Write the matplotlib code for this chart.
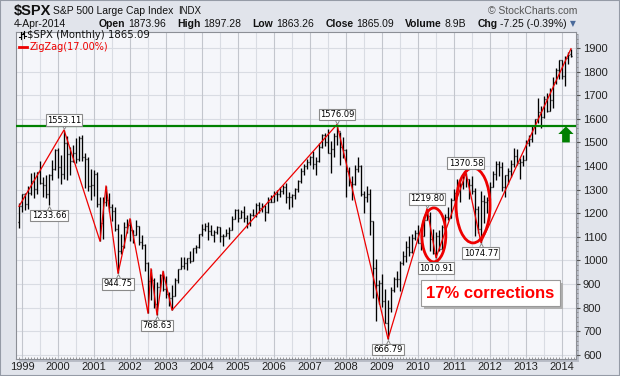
import matplotlib.pyplot as plt
import matplotlib.transforms as mtransforms
from matplotlib.patches import Ellipse, Rectangle
from matplotlib.lines import Line2D
from matplotlib.ticker import MultipleLocator
import pandas as pd

# monthly bars, Dec 1998 .. Apr 2014
months = pd.date_range("1998-12-01", "2014-04-01", freq="MS")

opens = [
    1163.6,
    1229.2, 1279.6, 1238.3, 1286.4, 1335.2, 1301.8, 1372.7, 1328.7, 1320.4, 1282.7, 1362.9, 1388.9,
    1469.3, 1394.5, 1366.4, 1498.6, 1452.4, 1420.6, 1454.6, 1430.8, 1517.7, 1436.5, 1429.4, 1315.0,
    1320.3, 1366.0, 1239.9, 1160.3, 1249.5, 1255.8, 1224.4, 1211.2, 1133.6, 1040.9, 1059.8, 1139.5,
    1148.1, 1130.2, 1106.7, 1147.4, 1076.9, 1067.1, 989.8, 911.6, 916.1, 815.3, 885.8, 936.3,
    879.8, 855.7, 841.2, 848.2, 916.9, 963.6, 974.5, 990.3, 1008.0, 996.0, 1050.7, 1058.2,
    1111.9, 1131.1, 1144.9, 1126.2, 1107.3, 1120.7, 1140.8, 1101.7, 1104.2, 1114.6, 1130.2, 1173.8,
    1211.9, 1181.3, 1203.6, 1180.6, 1156.9, 1191.5, 1191.3, 1234.2, 1220.3, 1228.8, 1207.0, 1249.5,
    1248.3, 1280.1, 1280.7, 1294.8, 1310.6, 1270.1, 1270.2, 1276.7, 1303.8, 1335.9, 1377.9, 1400.6,
    1418.3, 1438.2, 1406.8, 1420.9, 1482.4, 1530.6, 1503.4, 1455.3, 1474.0, 1526.8, 1549.4, 1481.1,
    1468.4, 1378.6, 1330.6, 1322.7, 1385.6, 1400.4, 1280.0, 1267.4, 1282.8, 1166.4, 968.8, 896.2,
    903.3, 825.9, 735.1, 797.9, 872.8, 919.1, 919.3, 987.5, 1020.6, 1057.1, 1036.2, 1095.6,
    1115.1, 1073.9, 1104.5, 1169.4, 1186.7, 1089.4, 1030.7, 1101.6, 1049.3, 1141.2, 1183.3, 1180.6,
    1257.6, 1286.1, 1327.2, 1325.8, 1363.6, 1345.2, 1320.6, 1292.3, 1218.9, 1131.4, 1253.3, 1247.0,
    1257.6, 1312.4, 1365.7, 1408.5, 1397.9, 1310.3, 1362.2, 1379.3, 1406.6, 1440.7, 1412.2, 1416.2,
    1426.2, 1498.1, 1514.7, 1569.2, 1597.6, 1630.7, 1606.3, 1685.7, 1633.0, 1681.6, 1756.5, 1805.8,
    1848.4, 1782.6, 1859.5, 1874.0,
]
highs = [
    1244.9,
    1280.0, 1283.8, 1316.6, 1371.6, 1376.0, 1376.0, 1420.3, 1352.0, 1361.0, 1365.0, 1427.0, 1474.0,
    1478.0, 1444.6, 1553.1, 1527.2, 1481.5, 1488.0, 1517.3, 1525.2, 1530.1, 1454.8, 1438.5, 1389.1,
    1383.4, 1376.4, 1267.4, 1269.3, 1315.9, 1286.6, 1239.8, 1226.3, 1155.4, 1110.6, 1163.4, 1173.6,
    1177.0, 1130.2, 1173.0, 1147.8, 1106.6, 1070.0, 994.5, 965.0, 924.0, 907.4, 941.8, 954.3,
    935.1, 864.6, 895.9, 924.2, 965.4, 1015.3, 1015.4, 1011.0, 1040.3, 1053.8, 1063.7, 1112.6,
    1155.4, 1159.0, 1163.2, 1150.6, 1127.7, 1146.3, 1140.8, 1109.7, 1131.5, 1142.1, 1188.5, 1217.3,
    1217.8, 1212.4, 1229.1, 1191.9, 1199.6, 1219.6, 1245.2, 1245.9, 1243.1, 1233.3, 1270.6, 1275.8,
    1294.9, 1297.6, 1310.9, 1318.2, 1326.7, 1290.7, 1280.4, 1306.7, 1340.3, 1389.5, 1407.9, 1431.8,
    1441.6, 1461.6, 1438.9, 1498.0, 1535.6, 1540.6, 1555.9, 1503.9, 1538.7, 1576.1, 1545.8, 1523.6,
    1471.8, 1396.0, 1359.7, 1404.6, 1440.2, 1404.1, 1292.2, 1313.2, 1303.0, 1167.0, 1007.5, 918.9,
    943.9, 877.9, 833.0, 888.7, 930.2, 956.2, 996.7, 1039.5, 1080.2, 1101.4, 1113.7, 1130.4,
    1150.5, 1112.4, 1180.2, 1219.8, 1205.1, 1131.2, 1121.0, 1129.2, 1148.9, 1196.1, 1227.1, 1262.6,
    1302.7, 1344.1, 1332.3, 1366.0, 1370.6, 1345.2, 1356.5, 1307.4, 1229.3, 1292.7, 1277.6, 1269.4,
    1333.5, 1378.0, 1419.2, 1422.4, 1415.3, 1363.5, 1391.7, 1426.7, 1474.5, 1471.0, 1434.3, 1448.0,
    1509.9, 1530.9, 1570.3, 1597.6, 1687.2, 1654.2, 1698.8, 1709.7, 1729.9, 1775.2, 1813.6, 1849.4,
    1850.8, 1867.9, 1884.0, 1897.3,
]
lows = [
    1136.9,
    1205.5, 1211.9, 1218.8, 1277.5, 1263.1, 1281.4, 1325.0, 1268.4, 1263.8, 1233.7, 1341.0, 1385.0,
    1350.1, 1325.1, 1346.6, 1339.4, 1361.1, 1415.0, 1413.9, 1422.0, 1419.4, 1305.8, 1294.9, 1254.1,
    1274.6, 1228.0, 1081.2, 1092.0, 1232.0, 1203.0, 1165.5, 1124.9, 944.8, 1026.8, 1054.3, 1114.5,
    1081.7, 1074.4, 1106.7, 1063.5, 1049.0, 952.9, 775.7, 833.4, 800.2, 768.6, 872.1, 871.7,
    840.3, 806.3, 788.9, 847.9, 902.8, 963.6, 962.1, 960.8, 990.4, 996.0, 1031.2, 1053.4,
    1105.1, 1124.4, 1087.2, 1107.2, 1076.3, 1113.3, 1078.8, 1060.7, 1101.3, 1090.2, 1127.6, 1173.8,
    1163.8, 1181.0, 1163.7, 1136.2, 1146.2, 1188.3, 1183.6, 1201.1, 1205.4, 1168.2, 1201.1, 1246.6,
    1245.7, 1253.6, 1268.4, 1280.7, 1245.3, 1219.3, 1224.5, 1261.3, 1290.9, 1327.1, 1361.0, 1385.9,
    1404.0, 1389.4, 1364.0, 1416.4, 1476.7, 1484.2, 1454.3, 1370.6, 1439.3, 1489.6, 1406.1, 1435.7,
    1270.1, 1316.8, 1257.0, 1320.0, 1373.1, 1272.0, 1200.4, 1247.5, 1106.4, 839.8, 741.0, 815.7,
    804.3, 734.5, 666.8, 783.3, 866.1, 888.9, 869.3, 978.5, 992.0, 1020.0, 1029.4, 1085.9,
    1071.6, 1044.5, 1101.4, 1170.7, 1040.8, 1028.3, 1010.9, 1039.7, 1048.1, 1131.9, 1173.0, 1180.6,
    1257.6, 1286.1, 1249.1, 1302.0, 1311.8, 1258.1, 1282.9, 1101.5, 1114.2, 1074.8, 1158.7, 1202.4,
    1257.6, 1312.4, 1340.0, 1357.4, 1292.0, 1266.7, 1325.4, 1354.7, 1396.6, 1403.3, 1343.4, 1398.1,
    1426.2, 1485.0, 1501.5, 1536.0, 1581.3, 1560.3, 1604.6, 1627.5, 1633.0, 1646.5, 1746.2, 1768.0,
    1770.5, 1737.9, 1834.4, 1863.3,
]
closes = [
    1229.2,
    1279.6, 1238.3, 1286.4, 1335.2, 1301.8, 1372.7, 1328.7, 1320.4, 1282.7, 1362.9, 1388.9, 1469.3,
    1394.5, 1366.4, 1498.6, 1452.4, 1420.6, 1454.6, 1430.8, 1517.7, 1436.5, 1429.4, 1315.0, 1320.3,
    1366.0, 1239.9, 1160.3, 1249.5, 1255.8, 1224.4, 1211.2, 1133.6, 1040.9, 1059.8, 1139.5, 1148.1,
    1130.2, 1106.7, 1147.4, 1076.9, 1067.1, 989.8, 911.6, 916.1, 815.3, 885.8, 936.3, 879.8,
    855.7, 841.2, 848.2, 916.9, 963.6, 974.5, 990.3, 1008.0, 996.0, 1050.7, 1058.2, 1111.9,
    1131.1, 1144.9, 1126.2, 1107.3, 1120.7, 1140.8, 1101.7, 1104.2, 1114.6, 1130.2, 1173.8, 1211.9,
    1181.3, 1203.6, 1180.6, 1156.9, 1191.5, 1191.3, 1234.2, 1220.3, 1228.8, 1207.0, 1249.5, 1248.3,
    1280.1, 1280.7, 1294.8, 1310.6, 1270.1, 1270.2, 1276.7, 1303.8, 1335.9, 1377.9, 1400.6, 1418.3,
    1438.2, 1406.8, 1420.9, 1482.4, 1530.6, 1503.4, 1455.3, 1474.0, 1526.8, 1549.4, 1481.1, 1468.4,
    1378.6, 1330.6, 1322.7, 1385.6, 1400.4, 1280.0, 1267.4, 1282.8, 1166.4, 968.8, 896.2, 903.3,
    825.9, 735.1, 797.9, 872.8, 919.1, 919.3, 987.5, 1020.6, 1057.1, 1036.2, 1095.6, 1115.1,
    1073.9, 1104.5, 1169.4, 1186.7, 1089.4, 1030.7, 1101.6, 1049.3, 1141.2, 1183.3, 1180.6, 1257.6,
    1286.1, 1327.2, 1325.8, 1363.6, 1345.2, 1320.6, 1292.3, 1218.9, 1131.4, 1253.3, 1247.0, 1257.6,
    1312.4, 1365.7, 1408.5, 1397.9, 1310.3, 1362.2, 1379.3, 1406.6, 1440.7, 1412.2, 1416.2, 1426.2,
    1498.1, 1514.7, 1569.2, 1597.6, 1630.7, 1606.3, 1685.7, 1633.0, 1681.6, 1756.5, 1805.8, 1848.4,
    1782.6, 1859.5, 1872.3, 1865.1,
]

# ZigZag(17%) turning points
zz_dates = ["1998-12", "2000-03", "2001-03", "2001-05", "2001-09", "2002-01", "2002-07",
            "2002-08", "2002-10", "2002-12", "2003-03", "2007-10", "2009-03", "2010-04",
            "2010-07", "2011-05", "2011-10", "2014-04"]
zz_values = [1229.2, 1553.11, 1081.2, 1315.9, 944.75, 1177.0, 775.7, 965.0, 768.63, 954.3,
             788.9, 1576.09, 666.79, 1219.80, 1010.91, 1370.58, 1074.77, 1897.3]

# labelled pivots
pivot_dates = ["2000-03", "1999-10", "2001-09", "2002-10", "2007-10", "2009-03",
               "2010-04", "2010-07", "2011-05", "2011-10"]
pivot_values = [1553.11, 1233.66, 944.75, 768.63, 1576.09, 666.79, 1219.80, 1010.91, 1370.58, 1074.77]
pivot_above = [True, False, False, False, True, False, True, False, True, False]

resistance = 1570

header_labels = ["Open", "High", "Low", "Close", "Volume", "Chg"]
header_values = ["1873.96", "1897.28", "1863.26", "1865.09", "8.9B", "-7.25 (-0.39%)"]


def to_t(s):
    d = pd.Timestamp(s)
    return d.year + (d.month - 1) / 12


t = months.year + (months.month - 1) / 12

W, H = 620, 376
BG = "#e1e4eb"
PLOT_BG = "#f5f6fa"


def fx(x):
    return x / W


def fy(y):
    return 1 - y / H


fig = plt.figure(figsize=(6.2, 3.76), dpi=100, facecolor=BG)
plt.rcParams["font.family"] = ["Liberation Sans", "DejaVu Sans"]

# plot area in pixels: left 16, right 576, top 32, bottom 359
L, R, T, B = 16, 576, 32, 359
fig.add_artist(Rectangle((fx(L + 3), fy(B + 3)), (R - L) / W, (B - T) / H,
                         transform=fig.transFigure, facecolor="#b9bdc7", edgecolor="none", zorder=0))
ax = fig.add_axes([fx(L), fy(B), (R - L) / W, (B - T) / H])
ax.set_facecolor(PLOT_BG)
fig.add_artist(Rectangle((0, 0), 1, 1, transform=fig.transFigure, fill=False,
                         edgecolor="#959ba6", lw=1.5, zorder=10))

ax.set_xlim(1998.833, 2014.389)
ax.set_ylim(582, 1968)

# grid
for y in range(600, 2000, 100):
    ax.axhline(y, color="#d9dce3", lw=0.8, zorder=0)
for yr in range(1999, 2015):
    ax.axvline(yr, color="#c3c6cd", lw=0.8, zorder=0)
    ax.axvline(yr + 0.5, color="#d9dce3", lw=0.8, zorder=0)

# OHLC bars
tick = 0.036
ax.vlines(t, lows, highs, color="black", lw=0.95, zorder=3)
ax.hlines(opens, t - tick, t, color="black", lw=0.95, zorder=3)
ax.hlines(closes, t, t + tick, color="black", lw=0.95, zorder=3)

# zigzag
ax.plot([to_t(d) for d in zz_dates], zz_values, color="#ee0000", lw=0.9, zorder=4)

# resistance line
ax.axhline(resistance, color="#008000", lw=1.6, zorder=5)

# pivot labels
for d, v, above in zip(pivot_dates, pivot_values, pivot_above):
    x = to_t(d)
    off = 7.0 if above else -7.5
    ax.annotate(f"{v:.2f}", (x, v), xytext=(0, off), textcoords="offset points",
                ha="center", va="center", fontsize=6, family="DejaVu Sans",
                bbox=dict(boxstyle="square,pad=0.15", fc="white", ec="#8a8a8a", lw=0.8),
                zorder=7)
    tr = mtransforms.offset_copy(ax.transData, fig=fig, x=0, y=(2.6 if above else -2.6), units="points")
    ax.plot([x], [v], marker=("v" if above else "^"), ms=4, mfc="white", mec="#8a8a8a",
            mew=0.7, transform=tr, zorder=6)

# correction ellipses
ax.add_patch(Ellipse((2010.44, 1108), 0.667, 229, fill=False, ec="#ee0000", lw=2.0, zorder=6))
ax.add_patch(Ellipse((2011.53, 1233), 0.944, 318, fill=False, ec="#ee0000", lw=2.0, zorder=6))

# green arrow
ax.annotate("", xy=(2014.11, 1568), xytext=(2014.11, 1500),
            arrowprops=dict(facecolor="#008000", edgecolor="none", width=5.5,
                            headwidth=11, headlength=5.5, shrink=0), zorder=6)

# axes styling
for s in ax.spines.values():
    s.set_color("#8c8f96")
    s.set_linewidth(0.8)
ax.yaxis.tick_right()
ax.set_yticks(range(600, 2000, 100))
ax.yaxis.set_minor_locator(MultipleLocator(20))
ax.set_xticks(range(1999, 2015))
ax.set_xticklabels([str(y) for y in range(1999, 2015)])
ax.xaxis.set_minor_locator(MultipleLocator(1 / 12))
ax.tick_params(axis="y", which="major", direction="out", length=3, width=0.8,
               colors="#555555", labelcolor="#222222", labelsize=8, pad=2)
ax.tick_params(axis="y", which="minor", direction="out", length=1.5, width=0.6, colors="#888888")
ax.tick_params(axis="x", which="major", direction="in", length=0, labelcolor="#222222",
               labelsize=8, pad=2)
ax.tick_params(axis="x", which="minor", direction="in", length=1.5, width=0.6, colors="#888888")

# correction callout box
fig.add_artist(Rectangle((fx(424), fy(309)), 139 / W, 26 / H, transform=fig.transFigure,
                         facecolor="#b0b0b0", edgecolor="none", zorder=8))
fig.add_artist(Rectangle((fx(421), fy(306)), 139 / W, 26 / H, transform=fig.transFigure,
                         facecolor="white", edgecolor="#999999", lw=0.8, zorder=9))
fig.text(fx(490.5), fy(293.5), "17% corrections", color="#ff0000", fontsize=12,
         fontweight="bold", ha="center", va="center", zorder=11)

# header
fig.text(fx(14), fy(11), "$SPX", fontsize=10.5, fontweight="bold", va="center", color="#111111")
fig.text(fx(53), fy(11), "S&P 500 Large Cap Index", fontsize=7.5, va="center", color="#111111")
fig.text(fx(178), fy(11), "INDX", fontsize=7, va="center", color="#111111")
fig.text(fx(577), fy(11), "\u00a9 StockCharts.com", fontsize=7.5, va="center", ha="right",
         color="#555555")
fig.text(fx(14), fy(24), "4-Apr-2014", fontsize=7.5, va="center", color="#111111")

# quote line: lay out label/value pairs between x=99 and x=567
fig.canvas.draw()
renderer = fig.canvas.get_renderer()
pieces = []
for lab, val in zip(header_labels, header_values):
    a = fig.text(0, fy(24), lab, fontsize=7.5, fontweight="bold", va="center", color="#111111")
    b = fig.text(0, fy(24), val, fontsize=7.5, va="center", color="#111111")
    pieces.append((a, b))
widths = [(a.get_window_extent(renderer).width, b.get_window_extent(renderer).width)
          for a, b in pieces]
small_gap = 3
used = sum(wa + wb for wa, wb in widths) + small_gap * len(widths)
big_gap = (567 - 99 - used) / (len(widths) - 1)
x = 99
for (a, b), (wa, wb) in zip(pieces, widths):
    a.set_x(fx(x))
    x += wa + small_gap
    b.set_x(fx(x))
    x += wb + big_gap
fig.text(fx(573), fy(24), "\u25bc", fontsize=5.5, va="center", ha="center", color="#4a6a9a",
         family="DejaVu Sans")

# legend inside plot
for xx, y0, y1, yo, yc in [(21, 39, 32, 37, 34), (24.5, 38, 31, 33, 36)]:
    fig.add_artist(Line2D([fx(xx), fx(xx)], [fy(y0), fy(y1)], color="black", lw=0.8, zorder=12))
    fig.add_artist(Line2D([fx(xx - 1.5), fx(xx)], [fy(yo), fy(yo)], color="black", lw=0.8, zorder=12))
    fig.add_artist(Line2D([fx(xx), fx(xx + 1.5)], [fy(yc), fy(yc)], color="black", lw=0.8, zorder=12))
fig.text(fx(27), fy(35.5), "$SPX (Monthly) 1865.09", fontsize=7.3, family="DejaVu Sans",
         va="center", color="#111111", zorder=12)
fig.add_artist(Line2D([fx(19), fx(27)], [fy(47), fy(47)], color="#ee0000", lw=2, zorder=12))
fig.text(fx(30), fy(47), "ZigZag(17.00%)", fontsize=7, family="DejaVu Sans",
         va="center", color="#ee0000", zorder=12)

fig.savefig("out.png", dpi=100, facecolor=BG)
